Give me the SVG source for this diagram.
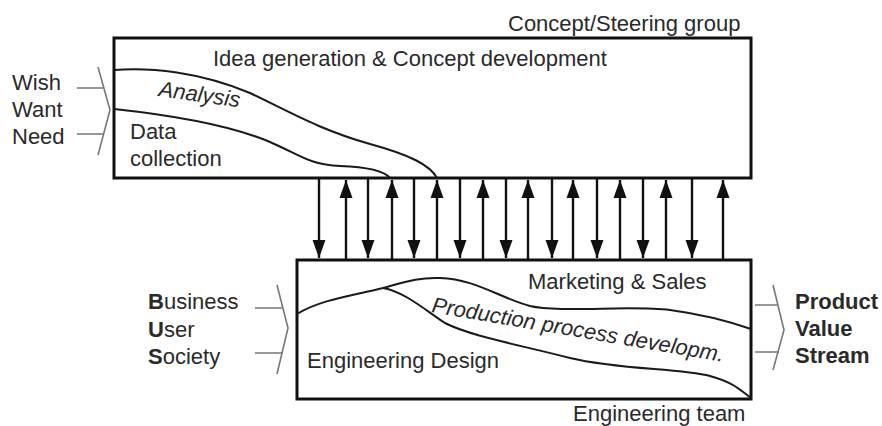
<svg xmlns="http://www.w3.org/2000/svg" width="882" height="426" viewBox="0 0 882 426">
<style>
text{font-family:"Liberation Sans",Arial,sans-serif;font-size:22px;fill:#2a2a2a}
.b{font-weight:bold}
.i{font-style:italic}
.box{fill:#fff;stroke:#111;stroke-width:3}
.cur{fill:none;stroke:#1a1a1a;stroke-width:2}
.chev{fill:none;stroke:#777;stroke-width:1.6}
.ar{stroke:#111;stroke-width:2.4;fill:none}
</style>
<defs>
<marker id="ah" viewBox="0 0 18 14" refX="18" refY="7" markerWidth="18" markerHeight="14" markerUnits="userSpaceOnUse" orient="auto">
<path d="M0,0.5 L18,7 L0,13.5 Z" fill="#111"/>
</marker>
</defs>
<rect width="882" height="426" fill="#fff"/>

<g id="concept-group">
<rect class="box" x="114" y="38" width="637" height="140"/>
<path class="cur" d="M114,70 C150,67 200,72 250,93 C290,112 320,130 370,144 C410,155 430,165 437,178"/>
<path class="cur" d="M114,109 C170,115 230,125 270,142 C300,155 310,165 340,166 C370,167 385,172 390,178"/>
<text x="508" y="31">Concept/Steering group</text>
<text x="213" y="66">Idea generation &amp; Concept development</text>
<text class="i" x="158" y="96" transform="rotate(8 158 96)">Analysis</text>
<text x="130" y="139">Data</text>
<text x="130" y="166">collection</text>
</g>

<g id="inputs-top">
<text x="12" y="90">Wish</text>
<text x="12" y="117">Want</text>
<text x="12" y="144">Need</text>
<path class="chev" d="M98,67 L110,110 L98,155 M77,88 H103 M77,134 H104"/>
</g>

<g id="engineering-team">
<rect class="box" x="297" y="260" width="454" height="139"/>
<path class="cur" d="M297,314 C320,300 350,296 383,288 C405,282 420,277 440,278 C475,279 500,298 530,306 C560,313 630,305 670,310 C700,314 725,320 751,329"/>
<path class="cur" d="M383,288 C405,292 425,310 445,323 C470,336 520,345 570,358 C620,370 680,368 710,376 C735,383 740,390 751,398"/>
<text x="528" y="289">Marketing &amp; Sales</text>
<text class="i" x="431" y="312" transform="rotate(9.7 431 312)">Production process developm.</text>
<text x="307" y="368">Engineering Design</text>
<text x="573" y="421">Engineering team</text>
</g>

<g id="inputs-bottom">
<text x="148" y="309"><tspan class="b">B</tspan>usiness</text>
<text x="148" y="337"><tspan class="b">U</tspan>ser</text>
<text x="148" y="364"><tspan class="b">S</tspan>ociety</text>
<path class="chev" d="M277,285 L288,328 L277,374 M255,308 H283 M255,353 H283"/>
</g>

<g id="outputs">
<text class="b" x="795" y="309">Product</text>
<text class="b" x="795" y="336">Value</text>
<text class="b" x="795" y="363">Stream</text>
<path class="chev" d="M773,285 L784,330 L773,370 M755,305 H778 M755,352 H779"/>
</g>

<g id="connectors">
<path class="ar" marker-end="url(#ah)" d="M319,179 V258"/>
<path class="ar" marker-end="url(#ah)" d="M368,179 V258"/>
<path class="ar" marker-end="url(#ah)" d="M414,179 V258"/>
<path class="ar" marker-end="url(#ah)" d="M460,179 V258"/>
<path class="ar" marker-end="url(#ah)" d="M506,179 V258"/>
<path class="ar" marker-end="url(#ah)" d="M552,179 V258"/>
<path class="ar" marker-end="url(#ah)" d="M597,179 V258"/>
<path class="ar" marker-end="url(#ah)" d="M643,179 V258"/>
<path class="ar" marker-end="url(#ah)" d="M692,179 V258"/>
<path class="ar" marker-end="url(#ah)" d="M346,259 V180"/>
<path class="ar" marker-end="url(#ah)" d="M392,259 V180"/>
<path class="ar" marker-end="url(#ah)" d="M437,259 V180"/>
<path class="ar" marker-end="url(#ah)" d="M483,259 V180"/>
<path class="ar" marker-end="url(#ah)" d="M528,259 V180"/>
<path class="ar" marker-end="url(#ah)" d="M573,259 V180"/>
<path class="ar" marker-end="url(#ah)" d="M620,259 V180"/>
<path class="ar" marker-end="url(#ah)" d="M666,259 V180"/>
<path class="ar" marker-end="url(#ah)" d="M723,259 V180"/>
</g>
</svg>
